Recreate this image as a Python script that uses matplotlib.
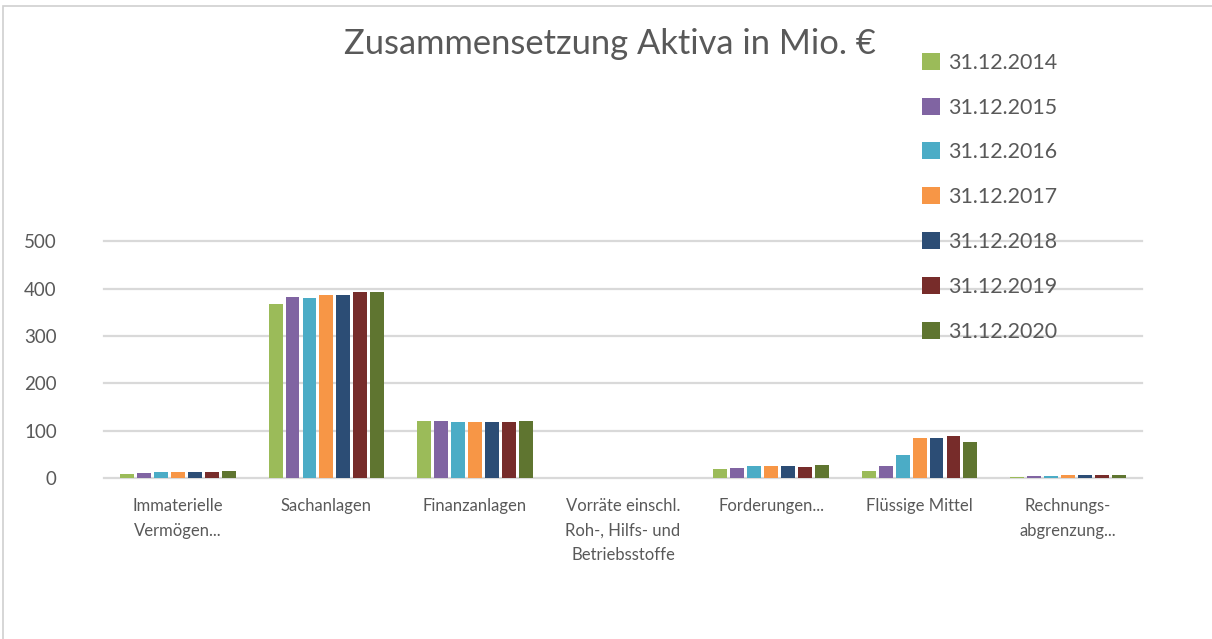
import matplotlib
matplotlib.use("Agg")
import matplotlib.pyplot as plt
from matplotlib.patches import Rectangle, Patch
import numpy as np

categories = ["Immaterielle\nVermögen...", "Sachanlagen", "Finanzanlagen",
              "Vorräte einschl.\nRoh-, Hilfs- und\nBetriebsstoffe", "Forderungen...",
              "Flüssige Mittel", "Rechnungs-\nabgrenzung..."]
series_names = ["31.12.2014", "31.12.2015", "31.12.2016", "31.12.2017",
                "31.12.2018", "31.12.2019", "31.12.2020"]
v2014 = [9, 367, 121, 0, 20, 14, 3]
v2015 = [11, 382, 121, 0, 22, 26, 5]
v2016 = [13, 380, 119, 0, 26, 48, 5]
v2017 = [13, 386, 119, 0, 26, 84, 7]
v2018 = [13, 386, 119, 0, 26, 84, 7]
v2019 = [13, 393, 119, 0, 24, 88, 7]
v2020 = [15, 393, 121, 0, 28, 76, 7]
values = [v2014, v2015, v2016, v2017, v2018, v2019, v2020]
colors = ["#9bbb59", "#8064a2", "#4bacc6", "#f79646", "#2c4d75", "#772c2a", "#5f7530"]
yticks = [0, 100, 200, 300, 400, 500]

W, H = 1212, 639
fig = plt.figure(figsize=(W / 100, H / 100), dpi=100)
plt.rcParams['font.family'] = ['Lato', 'DejaVu Sans']

# chart frame
fig.patches.append(Rectangle((3 / W, -0.1), 1.2, (H - 6) / H + 0.1, transform=fig.transFigure,
                             fill=False, edgecolor="#d0d0d0", lw=1.2))

ax = fig.add_axes([104 / W, 1 - 478 / H, (1142 - 104) / W, (478 - 241.5) / H])
x = np.arange(len(categories))
n = len(series_names)
slot = 0.8 / n
bw = slot * 0.82
for i, (name, vals, c) in enumerate(zip(series_names, values, colors)):
    ax.bar(x - 0.4 + slot * (i + 0.5), vals, width=bw, color=c, label=name, zorder=3)

ax.set_xlim(-0.5, len(categories) - 0.5)
ax.set_ylim(0, 500)
ax.set_yticks(yticks)
ax.set_yticklabels([str(t) for t in yticks], fontsize=13.5, color="#595959")
ax.tick_params(axis='y', length=0, pad=34)
ax.set_xticks(x)
ax.set_xticklabels(categories, fontsize=12, color="#595959", linespacing=1.65, va='top')
ax.tick_params(axis='x', length=0, pad=14.5)
for s in ax.spines.values():
    s.set_visible(False)
for t in yticks:
    ax.axhline(t, color="#d9d9d9", lw=1.6, zorder=0, clip_on=False)

fig.text(610 / W, 1 - 44 / H, "Zusammensetzung Aktiva in Mio. €", ha='center', va='center',
         fontsize=24.8, color="#595959")

handles = [Patch(facecolor=c, edgecolor='none') for c in colors]
leg = fig.legend(handles, series_names, loc='upper left', bbox_to_anchor=(903 / W, 1 - 33.5 / H),
                 frameon=False, fontsize=15.4, labelcolor="#595959", handlelength=0.85,
                 handleheight=0.85, handletextpad=0.35, labelspacing=1.16)

fig.savefig("out.png", dpi=100, facecolor="white")
